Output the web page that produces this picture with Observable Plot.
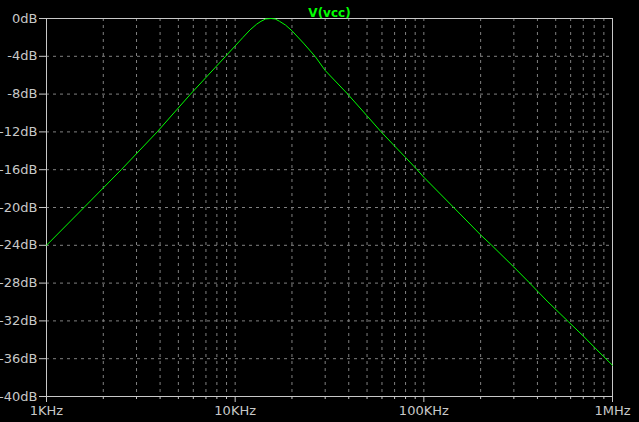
<!DOCTYPE html>
<html>
<head>
<meta charset="utf-8">
<script src="https://cdn.jsdelivr.net/npm/d3@7"></script>
<script src="https://cdn.jsdelivr.net/npm/@observablehq/plot@0.6"></script>
<style>
  html, body { margin: 0; padding: 0; background: #000; }
</style>
</head>
<body>
<div id="chart"></div>
<script>
// Frequency (Hz) and magnitude (dB)
const freqs = [1000, 1580, 2490, 3860, 5800, 8900, 10000, 11000, 12000, 13000, 13700, 14500, 15500, 16300, 17200, 18500, 20000, 23000, 26500, 30000, 39500, 50000, 59400, 70000, 80000, 92100, 100000, 144000, 200000, 229000, 300000, 360000, 450000, 585000, 700000, 900000, 1000000];
const gains = [-24.0, -20, -16, -12, -8, -4, -2.9, -2.0, -1.2, -0.6, -0.3, -0.05, 0, -0.05, -0.3, -0.7, -1.3, -2.6, -4, -5.5, -8, -10.3, -12, -13.5, -14.7, -16, -16.8, -20, -22.9, -24, -26.3, -27.9, -29.9, -32.1, -33.6, -35.8, -36.7];

const title = "V(vcc)";
const yTicks = [0, -4, -8, -12, -16, -20, -24, -28, -32, -36, -40];
const xMajor = [1e3, 1e4, 1e5, 1e6];
const xMajorLabels = ["1KHz", "10KHz", "100KHz", "1MHz"];
const decades = [1e3, 1e4, 1e5];
const multipliers = [2, 3, 4, 5, 6, 7, 8, 9];

const xMinor = decades.flatMap(d => multipliers.map(m => d * m));
const xGrid = [...xMinor, 1e4, 1e5];
const data = freqs.map((f, i) => ({f, g: gains[i]}));

const axisColor = "#c8c8c8";
const gridColor = "#808080";

const chart = Plot.plot({
  width: 639,
  height: 422,
  marginLeft: 46,
  marginRight: 27,
  marginTop: 18,
  marginBottom: 26,
  style: {background: "#000", color: axisColor, fontFamily: "DejaVu Sans", fontSize: "13px"},
  x: {type: "log", domain: [1e3, 1e6], label: null},
  y: {domain: [-40, 0], label: null},
  marks: [
    Plot.gridX(xGrid, {stroke: gridColor, strokeOpacity: 1, strokeDasharray: "3,4"}),
    Plot.gridY(yTicks.filter(d => d !== 0 && d !== -40), {stroke: gridColor, strokeOpacity: 1, strokeDasharray: "3,4"}),
    Plot.axisX(xMinor, {tickSize: 3, tickFormat: () => "", stroke: axisColor, label: null}),
    Plot.axisX(xMajor, {tickSize: 6, tickPadding: 3, stroke: axisColor, fill: axisColor, label: null,
      tickFormat: d => xMajorLabels[xMajor.indexOf(d)]}),
    Plot.axisY(yTicks, {tickSize: 7, tickPadding: 2, stroke: axisColor, fill: axisColor, label: null,
      tickFormat: d => d + "dB"}),
    Plot.frame({stroke: axisColor}),
    Plot.line(data, {x: "f", y: "g", stroke: "#00ff00", strokeWidth: 1}),
    Plot.text([title], {frameAnchor: "top", dy: -10, fill: "#00ff00", fontWeight: "bold", fontSize: 12})
  ]
});

document.getElementById("chart").appendChild(chart);
</script>
</body>
</html>
